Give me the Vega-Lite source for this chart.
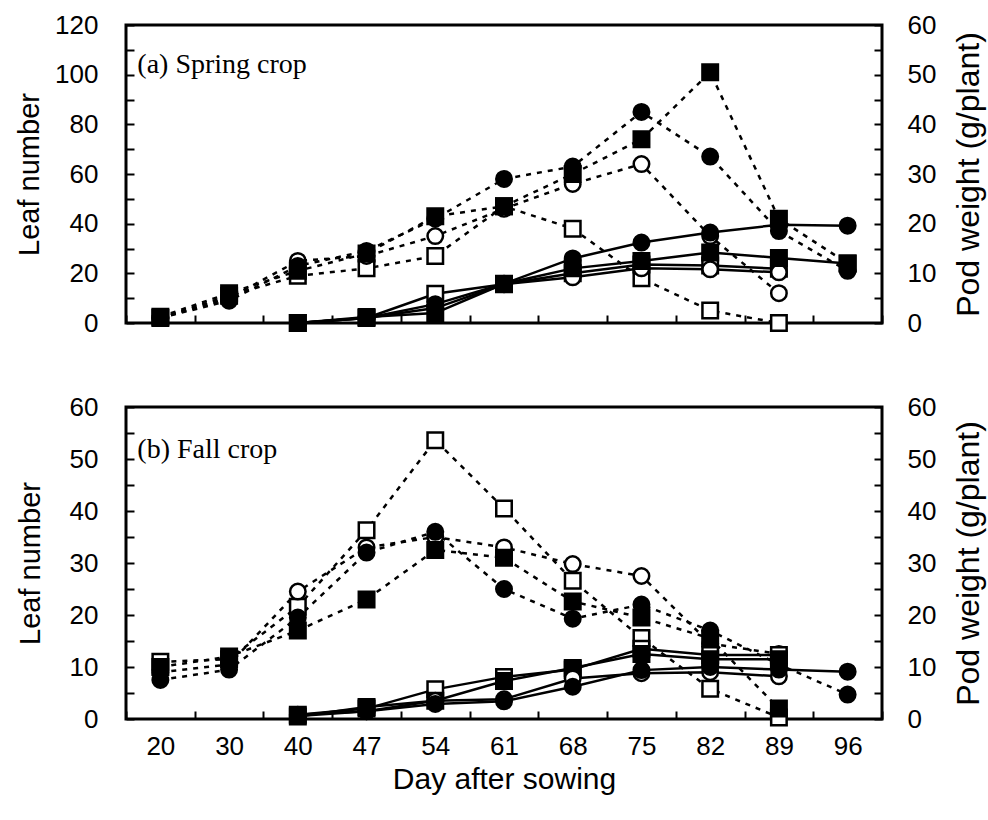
{
  "$schema": "https://vega.github.io/schema/vega-lite/v6.json",
  "padding": {"left": 14, "top": 10, "right": 0, "bottom": 0},
  "background": "white",
  "config": {
    "view": {"stroke": "black", "strokeWidth": 3},
    "axis": {"domain": false, "grid": false, "tickColor": "black", "tickWidth": 2, "tickSize": -8, "labelColor": "black", "titleColor": "black", "labelFont": "Liberation Sans", "titleFont": "Liberation Sans", "labelFontSize": 26, "titleFontSize": 29, "titleFontWeight": "normal"},
    "concat": {"spacing": 84}
  },
  "datasets": {
    "spring_leaf": [
      {"day": "20", "trt": "OS", "v": 2}, {"day": "30", "trt": "OS", "v": 11}, {"day": "40", "trt": "OS", "v": 19}, {"day": "47", "trt": "OS", "v": 22}, {"day": "54", "trt": "OS", "v": 27}, {"day": "61", "trt": "OS", "v": 47}, {"day": "68", "trt": "OS", "v": 38}, {"day": "75", "trt": "OS", "v": 18}, {"day": "82", "trt": "OS", "v": 5}, {"day": "89", "trt": "OS", "v": 0},
      {"day": "20", "trt": "OC", "v": 2}, {"day": "30", "trt": "OC", "v": 10}, {"day": "40", "trt": "OC", "v": 25}, {"day": "47", "trt": "OC", "v": 27}, {"day": "54", "trt": "OC", "v": 35}, {"day": "61", "trt": "OC", "v": 46}, {"day": "68", "trt": "OC", "v": 56}, {"day": "75", "trt": "OC", "v": 64}, {"day": "82", "trt": "OC", "v": 35}, {"day": "89", "trt": "OC", "v": 12},
      {"day": "20", "trt": "FC", "v": 2}, {"day": "30", "trt": "FC", "v": 9}, {"day": "40", "trt": "FC", "v": 23}, {"day": "47", "trt": "FC", "v": 29}, {"day": "54", "trt": "FC", "v": 42}, {"day": "61", "trt": "FC", "v": 58}, {"day": "68", "trt": "FC", "v": 63}, {"day": "75", "trt": "FC", "v": 85}, {"day": "82", "trt": "FC", "v": 67}, {"day": "89", "trt": "FC", "v": 37}, {"day": "96", "trt": "FC", "v": 21},
      {"day": "20", "trt": "FS", "v": 2.5}, {"day": "30", "trt": "FS", "v": 12}, {"day": "40", "trt": "FS", "v": 21}, {"day": "47", "trt": "FS", "v": 28}, {"day": "54", "trt": "FS", "v": 43}, {"day": "61", "trt": "FS", "v": 47}, {"day": "68", "trt": "FS", "v": 60}, {"day": "75", "trt": "FS", "v": 74}, {"day": "82", "trt": "FS", "v": 101}, {"day": "89", "trt": "FS", "v": 42}, {"day": "96", "trt": "FS", "v": 24}
    ],
    "spring_pod": [
      {"day": "40", "trt": "OS", "v": 0}, {"day": "47", "trt": "OS", "v": 1}, {"day": "54", "trt": "OS", "v": 5.9}, {"day": "61", "trt": "OS", "v": 7.8}, {"day": "68", "trt": "OS", "v": 10}, {"day": "75", "trt": "OS", "v": 11.8}, {"day": "82", "trt": "OS", "v": 11.6}, {"day": "89", "trt": "OS", "v": 10.9},
      {"day": "40", "trt": "OC", "v": 0}, {"day": "47", "trt": "OC", "v": 1}, {"day": "54", "trt": "OC", "v": 3}, {"day": "61", "trt": "OC", "v": 7.8}, {"day": "68", "trt": "OC", "v": 9.2}, {"day": "75", "trt": "OC", "v": 11}, {"day": "82", "trt": "OC", "v": 10.8}, {"day": "89", "trt": "OC", "v": 10.2},
      {"day": "40", "trt": "FC", "v": 0}, {"day": "47", "trt": "FC", "v": 1}, {"day": "54", "trt": "FC", "v": 3.8}, {"day": "61", "trt": "FC", "v": 7.9}, {"day": "68", "trt": "FC", "v": 13}, {"day": "75", "trt": "FC", "v": 16.2}, {"day": "82", "trt": "FC", "v": 18.2}, {"day": "89", "trt": "FC", "v": 19.8}, {"day": "96", "trt": "FC", "v": 19.6},
      {"day": "40", "trt": "FS", "v": 0}, {"day": "47", "trt": "FS", "v": 1.2}, {"day": "54", "trt": "FS", "v": 2}, {"day": "61", "trt": "FS", "v": 7.9}, {"day": "68", "trt": "FS", "v": 11}, {"day": "75", "trt": "FS", "v": 12.5}, {"day": "82", "trt": "FS", "v": 14.2}, {"day": "89", "trt": "FS", "v": 13.1}, {"day": "96", "trt": "FS", "v": 12}
    ],
    "fall_leaf": [
      {"day": "20", "trt": "OS", "v": 11}, {"day": "30", "trt": "OS", "v": 11.5}, {"day": "40", "trt": "OS", "v": 21.6}, {"day": "47", "trt": "OS", "v": 36.3}, {"day": "54", "trt": "OS", "v": 53.6}, {"day": "61", "trt": "OS", "v": 40.5}, {"day": "68", "trt": "OS", "v": 26.6}, {"day": "75", "trt": "OS", "v": 15.6}, {"day": "82", "trt": "OS", "v": 5.8}, {"day": "89", "trt": "OS", "v": 0.3},
      {"day": "20", "trt": "OC", "v": 9}, {"day": "30", "trt": "OC", "v": 10.5}, {"day": "40", "trt": "OC", "v": 24.5}, {"day": "47", "trt": "OC", "v": 33}, {"day": "54", "trt": "OC", "v": 35}, {"day": "61", "trt": "OC", "v": 33}, {"day": "68", "trt": "OC", "v": 29.8}, {"day": "75", "trt": "OC", "v": 27.5}, {"day": "82", "trt": "OC", "v": 14.5}, {"day": "89", "trt": "OC", "v": 12.5},
      {"day": "20", "trt": "FC", "v": 7.5}, {"day": "30", "trt": "FC", "v": 9.5}, {"day": "40", "trt": "FC", "v": 19.5}, {"day": "47", "trt": "FC", "v": 32}, {"day": "54", "trt": "FC", "v": 36}, {"day": "61", "trt": "FC", "v": 25}, {"day": "68", "trt": "FC", "v": 19.3}, {"day": "75", "trt": "FC", "v": 22}, {"day": "82", "trt": "FC", "v": 17}, {"day": "89", "trt": "FC", "v": 10.5}, {"day": "96", "trt": "FC", "v": 4.7},
      {"day": "20", "trt": "FS", "v": 10}, {"day": "30", "trt": "FS", "v": 12}, {"day": "40", "trt": "FS", "v": 17}, {"day": "47", "trt": "FS", "v": 23}, {"day": "54", "trt": "FS", "v": 32.5}, {"day": "61", "trt": "FS", "v": 31}, {"day": "68", "trt": "FS", "v": 22.6}, {"day": "75", "trt": "FS", "v": 19.5}, {"day": "82", "trt": "FS", "v": 15.5}, {"day": "89", "trt": "FS", "v": 2}
    ],
    "fall_pod": [
      {"day": "40", "trt": "OS", "v": 0.8}, {"day": "47", "trt": "OS", "v": 2}, {"day": "54", "trt": "OS", "v": 5.7}, {"day": "61", "trt": "OS", "v": 8.1}, {"day": "68", "trt": "OS", "v": 9.5}, {"day": "75", "trt": "OS", "v": 13.5}, {"day": "82", "trt": "OS", "v": 12.3}, {"day": "89", "trt": "OS", "v": 12.3},
      {"day": "40", "trt": "FS", "v": 0.5}, {"day": "47", "trt": "FS", "v": 2.3}, {"day": "54", "trt": "FS", "v": 3.5}, {"day": "61", "trt": "FS", "v": 7.3}, {"day": "68", "trt": "FS", "v": 9.8}, {"day": "75", "trt": "FS", "v": 12.5}, {"day": "82", "trt": "FS", "v": 11.5}, {"day": "89", "trt": "FS", "v": 11.5},
      {"day": "40", "trt": "OC", "v": 0.8}, {"day": "47", "trt": "OC", "v": 1.5}, {"day": "54", "trt": "OC", "v": 3.5}, {"day": "61", "trt": "OC", "v": 3.8}, {"day": "68", "trt": "OC", "v": 7.8}, {"day": "75", "trt": "OC", "v": 8.8}, {"day": "82", "trt": "OC", "v": 9}, {"day": "89", "trt": "OC", "v": 8.2},
      {"day": "40", "trt": "FC", "v": 0.6}, {"day": "47", "trt": "FC", "v": 1.5}, {"day": "54", "trt": "FC", "v": 2.9}, {"day": "61", "trt": "FC", "v": 3.4}, {"day": "68", "trt": "FC", "v": 6.2}, {"day": "75", "trt": "FC", "v": 9.4}, {"day": "82", "trt": "FC", "v": 10}, {"day": "89", "trt": "FC", "v": 9.5}, {"day": "96", "trt": "FC", "v": 9.1}
    ]
  },
  "vconcat": [
    {
      "width": 756,
      "height": 298,
      "encoding": {
        "x": {"field": "day", "type": "ordinal", "scale": {"type": "band", "domain": ["20","30","40","47","54","61","68","75","82","89","96"], "paddingInner": 0, "paddingOuter": 0}, "axis": {"labels": false, "title": null, "tickBand": "extent"}}
      },
      "layer": [
        {
          "data": {"name": "spring_leaf"},
          "encoding": {
            "y": {"field": "v", "type": "quantitative", "scale": {"domain": [0, 120], "nice": false}, "axis": {"title": "Leaf number", "values": [0,10,20,30,40,50,60,70,80,90,100,110,120], "labelExpr": "datum.value % 20 === 0 ? datum.label : ''", "labelPadding": 36, "titlePadding": 10}}
          },
          "layer": [
            {"mark": {"type": "line", "color": "black", "strokeWidth": 2.5, "strokeDash": [5, 6]}, "encoding": {"detail": {"field": "trt"}}},
            {"mark": {"type": "point", "filled": true, "stroke": "black", "strokeWidth": 2.5, "opacity": 1},
             "encoding": {
               "fill": {"field": "trt", "scale": {"domain": ["FC","OC","FS","OS"], "range": ["black","white","black","white"]}, "legend": null},
               "shape": {"field": "trt", "scale": {"domain": ["FC","OC","FS","OS"], "range": ["circle","circle","square","square"]}, "legend": null},
               "size": {"field": "trt", "type": "nominal", "scale": {"domain": ["FC","OC","FS","OS"], "range": [240, 240, 300, 300]}, "legend": null}
             }},
            {"data": {"values": [{"day": "20", "v": 104, "label": "(a) Spring crop"}]},
             "mark": {"type": "text", "font": "Liberation Serif", "fontSize": 28, "align": "left", "baseline": "middle", "dx": -23, "color": "black"},
             "encoding": {"text": {"field": "label"}}}
          ]
        },
        {
          "data": {"name": "spring_pod"},
          "encoding": {
            "y": {"field": "v", "type": "quantitative", "scale": {"domain": [0, 60], "nice": false}, "axis": {"orient": "right", "title": "Pod weight (g/plant)", "titleFontSize": 32, "titleAngle": 270, "titleBaseline": "top", "values": [0,5,10,15,20,25,30,35,40,45,50,55,60], "labelExpr": "datum.value % 10 === 0 ? datum.label : ''", "labelPadding": 33, "titlePadding": 18}}
          },
          "layer": [
            {"mark": {"type": "line", "color": "black", "strokeWidth": 2.5}, "encoding": {"detail": {"field": "trt"}}},
            {"mark": {"type": "point", "filled": true, "stroke": "black", "strokeWidth": 2.5, "opacity": 1},
             "encoding": {
               "fill": {"field": "trt", "scale": {"domain": ["FC","OC","FS","OS"], "range": ["black","white","black","white"]}, "legend": null},
               "shape": {"field": "trt", "scale": {"domain": ["FC","OC","FS","OS"], "range": ["circle","circle","square","square"]}, "legend": null},
               "size": {"field": "trt", "type": "nominal", "scale": {"domain": ["FC","OC","FS","OS"], "range": [240, 240, 300, 300]}, "legend": null}
             }}
          ]
        }
      ],
      "resolve": {"scale": {"y": "independent"}}
    },
    {
      "width": 756,
      "height": 312,
      "encoding": {
        "x": {"field": "day", "type": "ordinal", "scale": {"type": "band", "domain": ["20","30","40","47","54","61","68","75","82","89","96"], "paddingInner": 0, "paddingOuter": 0}, "axis": {"labelAngle": 0, "labelPadding": 22, "title": "Day after sowing", "titleFontSize": 30, "titlePadding": 5, "tickBand": "extent"}}
      },
      "layer": [
        {
          "data": {"name": "fall_leaf"},
          "encoding": {
            "y": {"field": "v", "type": "quantitative", "scale": {"domain": [0, 60], "nice": false}, "axis": {"title": "Leaf number", "values": [0,5,10,15,20,25,30,35,40,45,50,55,60], "labelExpr": "datum.value % 10 === 0 ? datum.label : ''", "labelPadding": 36, "titlePadding": 24}}
          },
          "layer": [
            {"mark": {"type": "line", "color": "black", "strokeWidth": 2.5, "strokeDash": [5, 6]}, "encoding": {"detail": {"field": "trt"}}},
            {"mark": {"type": "point", "filled": true, "stroke": "black", "strokeWidth": 2.5, "opacity": 1},
             "encoding": {
               "fill": {"field": "trt", "scale": {"domain": ["FC","OC","FS","OS"], "range": ["black","white","black","white"]}, "legend": null},
               "shape": {"field": "trt", "scale": {"domain": ["FC","OC","FS","OS"], "range": ["circle","circle","square","square"]}, "legend": null},
               "size": {"field": "trt", "type": "nominal", "scale": {"domain": ["FC","OC","FS","OS"], "range": [240, 240, 300, 300]}, "legend": null}
             }},
            {"data": {"values": [{"day": "20", "v": 51.7, "label": "(b) Fall crop"}]},
             "mark": {"type": "text", "font": "Liberation Serif", "fontSize": 28, "align": "left", "baseline": "middle", "dx": -23, "color": "black"},
             "encoding": {"text": {"field": "label"}}}
          ]
        },
        {
          "data": {"name": "fall_pod"},
          "encoding": {
            "y": {"field": "v", "type": "quantitative", "scale": {"domain": [0, 60], "nice": false}, "axis": {"orient": "right", "title": "Pod weight (g/plant)", "titleFontSize": 32, "titleAngle": 270, "titleBaseline": "top", "values": [0,5,10,15,20,25,30,35,40,45,50,55,60], "labelExpr": "datum.value % 10 === 0 ? datum.label : ''", "labelPadding": 33, "titlePadding": 18}}
          },
          "layer": [
            {"mark": {"type": "line", "color": "black", "strokeWidth": 2.5}, "encoding": {"detail": {"field": "trt"}}},
            {"mark": {"type": "point", "filled": true, "stroke": "black", "strokeWidth": 2.5, "opacity": 1},
             "encoding": {
               "fill": {"field": "trt", "scale": {"domain": ["FC","OC","FS","OS"], "range": ["black","white","black","white"]}, "legend": null},
               "shape": {"field": "trt", "scale": {"domain": ["FC","OC","FS","OS"], "range": ["circle","circle","square","square"]}, "legend": null},
               "size": {"field": "trt", "type": "nominal", "scale": {"domain": ["FC","OC","FS","OS"], "range": [340, 340, 290, 290]}, "legend": null}
             }}
          ]
        }
      ],
      "resolve": {"scale": {"y": "independent"}}
    }
  ],
  "bounds": "flush"
}
